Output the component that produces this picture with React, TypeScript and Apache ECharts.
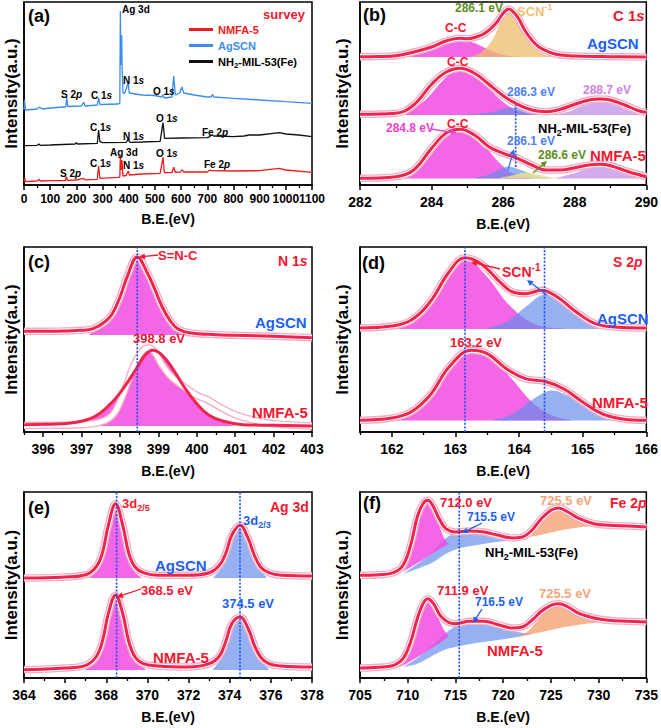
import React, { useEffect, useRef } from "react";
import * as echarts from "echarts";

type P = [number, number];
type F = number[][];

const FF = '"Liberation Sans", Arial, Helvetica, sans-serif';

// ---------------- (a) survey ----------------
const aTicks = [0, 100, 200, 300, 400, 500, 600, 700, 800, 900, 1000, 1100];
const aMinor = [50, 150, 250, 350, 450, 550, 650, 750, 850, 950, 1050];
const surveyAgSCN: P[] = [[0,75],[2,85],[6,75],[50,76],[60,78],[70,76],[100,77],[150,78],[160,78],[163,88],[167,78.5],[220,79],[228,83],[233,79],[280,80],[285,87],[290,80.5],[360,81],[366,82],[368,174],[370,120],[373,150],[375,115],[378,92],[385,92],[398,102],[402,92],[450,90],[500,89.5],[525,88],[531,90],[536,87],[565,88],[572,109],[578,90],[595,92],[603,98],[610,92],[650,90],[700,88],[715,88],[720,90.7],[725,88],[800,86.7],[900,85],[1000,83.3],[1100,81.7]];
const surveyNH2: P[] = [[0,39.3],[50,39.7],[57,41],[62,39.7],[100,40],[195,41],[200,42.3],[205,41],[280,41.7],[285,55],[290,43.3],[300,42.3],[390,42.7],[398,45.7],[405,42.7],[450,43],[520,43.7],[531,62.3],[537,46.7],[600,47],[700,47.3],[710,48.3],[712,50],[725,49],[800,48.3],[840,49],[860,50],[900,50],[975,52.3],[1000,51],[1050,50],[1100,48.3]];
const surveyNMFA: P[] = [[0,3.3],[3,6.7],[6,3.3],[50,4],[58,5.7],[62,4],[100,4.3],[158,4.5],[162,8.3],[166,4.7],[200,5],[228,6.7],[232,5.2],[280,5.7],[285,19],[290,6.7],[360,7.7],[366,8],[368,29.3],[371,15],[374,25],[378,9],[390,9.5],[398,14],[403,10],[450,11],[520,11.7],[531,27.7],[536,12.3],[565,12.5],[572,17.7],[578,12.7],[598,13],[603,15.3],[610,13],[700,13],[710,15],[715,14.3],[800,14],[900,14.3],[975,16.7],[1000,15],[1100,12.7]];

// ---------------- (b) C 1s ----------------
const bTicks = [282, 284, 286, 288, 290];
const bMinor = [283, 285, 287, 289];
const bAgEnv: P[] = [[282,128.3],[282.5,128.5],[283,129.3],[283.5,133],[284,138],[284.4,144],[284.8,146.7],[285.0,146.3],[285.2,147.5],[285.5,152],[285.8,161.7],[286.0,171.7],[286.15,176],[286.4,168],[286.6,155],[286.8,145],[287.0,138],[287.3,132.7],[287.6,130],[288,129],[289,128.3],[290,128]];
const bAgCC: F = [[283.2,128.3],[283.6,131],[284.0,137],[284.3,142],[284.75,146],[285.2,142],[285.5,137],[285.9,131],[286.3,128.3]];
const bAgSCNpk: F = [[285.1,128.3],[285.4,133],[285.7,145],[285.9,160],[286.1,174],[286.3,170],[286.5,158],[286.7,145],[286.9,136],[287.2,130],[287.5,128.3]];
const bAgBase = 128;
const bNH2Env: P[] = [[282,70.7],[283,71.7],[283.5,80],[284,100.7],[284.4,112.7],[284.8,116.7],[285.2,111.7],[285.6,100.7],[286.0,89.3],[286.4,80.7],[286.8,75],[287.2,73.3],[287.6,75.7],[288.0,80.7],[288.4,85],[288.7,86],[289.0,85],[289.4,80],[289.8,74],[290,72.7]];
const bNH2CC: F = [[282.8,70.5],[283.3,74],[283.8,84],[284.2,100],[284.5,111],[284.8,115.5],[285.1,111],[285.5,100],[285.9,86],[286.3,76],[286.8,71],[287.3,70]];
const bNH2Pk2863: F = [[285.0,70],[285.6,72.5],[286.0,76],[286.3,77.5],[286.6,76],[287.0,72.5],[287.5,70]];
const bNH2Pk2887: F = [[287.3,70],[287.8,73],[288.2,79],[288.7,83],[289.2,79],[289.6,73],[290,70.5]];
const bNH2Base = 70;
const bNMFAEnv: P[] = [[282,6.7],[283,8.3],[283.5,15],[284,36.7],[284.4,51.7],[284.8,55.7],[285.2,50],[285.6,38.3],[286.0,31.7],[286.4,26.7],[286.8,20],[287.2,15],[287.6,15],[288.0,17.3],[288.4,20],[288.7,20.7],[289,19.3],[289.5,13.3],[290,8.3]];
const bNMFACC: F = [[282.8,7],[283.3,10],[283.8,22],[284.2,40],[284.5,50],[284.8,54],[285.1,50],[285.5,38],[285.9,22],[286.3,11],[286.8,7]];
const bNMFAPk2861: F = [[285.2,7],[285.6,10.5],[286.0,17],[286.2,18.3],[286.5,15],[286.9,9.5],[287.3,7]];
const bNMFAPk2866: F = [[285.9,7],[286.3,10],[286.6,12.5],[286.9,11],[287.3,8],[287.6,7]];
const bNMFAPk2887: F = [[287.5,7],[288.0,12],[288.4,17],[288.7,18.5],[289.0,17],[289.4,12],[290,7.5]];
const bNMFABase = 6.5;
const bGuide: P[] = [[286.35,18],[286.35,80]];

// ---------------- (c) N 1s ----------------
const cTicks = [396, 397, 398, 399, 400, 401, 402, 403];
const cMinor = [395.5, 396.5, 397.5, 398.5, 399.5, 400.5, 401.5, 402.5];
const cAgEnv: P[] = [[395.5,100.7],[396,100.7],[396.5,101],[397,101.7],[397.3,103.3],[397.6,110],[397.8,118.3],[398.0,135],[398.2,156.7],[398.45,175],[398.7,160],[398.9,143.3],[399.1,125],[399.3,111.7],[399.5,103.3],[399.8,99.3],[400.5,97.3],[401,96.7],[402,95.7],[403,94.3]];
const cAgFill: F = [[397.2,97.5],[397.5,106],[397.8,118],[398.0,135],[398.2,156],[398.45,174],[398.7,159],[398.9,142],[399.1,124],[399.3,111],[399.6,101],[399.9,97.5]];
const cAgBase = 97;
const cNMFAEnv: P[] = [[395.5,7.3],[396,7.7],[396.5,8.3],[397,10.7],[397.4,16.7],[397.8,30],[398.1,44.3],[398.4,61.7],[398.65,76.7],[398.85,81.7],[399.1,76.7],[399.4,61.7],[399.7,43.3],[400,28.3],[400.3,17.3],[400.7,10.7],[401.2,7.3],[402,6.7],[403,6]];
const cNMFARaw: P[] = [[395.5,6.5],[396,6.7],[396.5,6.8],[397,7.3],[397.5,10],[397.8,16.7],[398.0,30],[398.2,50],[398.4,70],[398.6,81.7],[398.75,84],[398.9,80],[399.1,66.7],[399.3,56.7],[399.5,50],[399.8,41.7],[400,36.7],[400.3,31.7],[400.6,25],[401,17.3],[401.5,11.7],[402,8.3],[403,6]];
const cNMFAFill: F = [[397.0,6],[397.4,16],[397.8,30],[398.1,44],[398.4,61.5],[398.65,76.5],[398.85,81.5],[399.1,76.5],[399.4,61.5],[399.7,43],[400,28],[400.3,17],[400.7,10],[401,6]];
const cNMFABase = 6;
const cGuide = [398.45];

// ---------------- (d) S 2p ----------------
const dTicks = [162, 163, 164, 165, 166];
const dMinor = [161.5, 162.5, 163.5, 164.5, 165.5];
const dAgEnv: P[] = [[161.5,104],[162,106],[162.3,111.7],[162.6,130],[162.9,160],[163.15,174.3],[163.4,168.3],[163.7,150],[163.9,140],[164.1,138.3],[164.35,141.7],[164.6,135],[164.9,120],[165.2,108.3],[165.5,105],[166,104]];
const dAgPk1: F = [[161.8,104],[162.2,108],[162.5,125],[162.8,148],[163.15,173],[163.5,155],[163.8,130],[164.1,113],[164.4,105],[164.7,103.5]];
const dAgPk2: F = [[163.5,104],[163.8,110],[164.1,125],[164.4,137.5],[164.7,128],[165.0,114],[165.3,105],[165.5,103.5]];
const dAgBase = 103;
const dNMFAEnv: P[] = [[161.5,11.7],[162,14],[162.3,20],[162.6,36.7],[162.9,65],[163.25,81.7],[163.5,78.3],[163.8,63.3],[164.1,53.3],[164.4,50.7],[164.7,43.3],[165,30],[165.3,18.3],[165.6,13.3],[166,11.7]];
const dNMFAPk1: F = [[161.8,12],[162.2,18],[162.5,33],[162.8,57],[163.25,81],[163.6,72],[163.9,52],[164.2,30],[164.5,17],[164.8,12]];
const dNMFAPk2: F = [[163.6,12],[163.9,18],[164.2,32],[164.5,41.5],[164.8,35],[165.1,22],[165.4,14],[165.7,12]];
const dNMFABase = 11.5;
const dGuide = [163.15, 164.4];

// ---------------- (e) Ag 3d ----------------
const eTicks = [364, 366, 368, 370, 372, 374, 376, 378];
const eMinor = [365, 367, 369, 371, 373, 375, 377];
const eAgEnv: P[] = [[364,100],[366,101],[367,103.3],[367.5,111],[367.8,124.3],[368.1,152.7],[368.45,174.3],[368.8,152.7],[369.1,124.3],[369.4,111],[369.8,105.3],[370.5,102.7],[372,102.7],[373,105.3],[373.5,112.7],[373.8,124.3],[374.1,142.7],[374.5,152.7],[374.9,139.3],[375.2,122.7],[375.5,111],[375.9,105.3],[376.5,102.7],[378,102]];
const eAgPk1: F = [[367.2,100.5],[367.6,108],[367.9,122],[368.2,150],[368.45,173],[368.7,152],[369.0,125],[369.3,108],[369.7,100.5]];
const eAgPk2: F = [[373.2,100.5],[373.6,110],[373.9,125],[374.2,143],[374.5,151],[374.8,143],[375.1,125],[375.4,110],[375.8,100.5]];
const eAgBase = 100;
const eNMFAEnv: P[] = [[364,8.3],[366,10],[367,12.7],[367.5,21],[367.8,36],[368.1,64.3],[368.45,82.7],[368.8,64.3],[369.1,36],[369.4,21],[369.8,14.3],[370.5,12],[372,11],[373,14.3],[373.5,22],[373.8,36],[374.1,54.3],[374.5,61],[374.9,49.3],[375.2,32.7],[375.5,21],[375.9,14.3],[376.5,12],[378,11]];
const eNMFAPk1: F = [[367.0,9],[367.5,18],[367.9,40],[368.2,70],[368.45,81],[368.7,70],[369.0,42],[369.4,18],[369.9,9]];
const eNMFAPk2: F = [[373.2,9],[373.6,20],[373.9,38],[374.2,55],[374.5,60],[374.8,52],[375.1,36],[375.5,18],[375.9,9]];
const eNMFABase = 8;
const eGuide = [368.5, 374.5];

// ---------------- (f) Fe 2p ----------------
const fTicks = [705, 710, 715, 720, 725, 730, 735];
const fMinor = [707.5, 712.5, 717.5, 722.5, 727.5, 732.5];
const fNH2Env: P[] = [[705,102.7],[707,103.3],[708.5,105.3],[709.5,112.7],[710.3,132.7],[711,161],[711.6,174.3],[712.1,177.7],[712.6,172.7],[713.3,159.3],[714,149.3],[715,146],[716.5,147],[718,146],[719.5,142.7],[721,140],[722,141],[723,147.7],[724,159.3],[725,167.7],[725.8,170],[726.8,166],[728,159.3],[729.5,154.3],[731,152.7],[733,152],[735,151]];
const fNH2Pk712: F = [[709,103.5,103.5],[709.8,110,108],[710.5,130,112],[711.2,160,116],[711.7,173,119],[712.1,177,121.5],[712.6,171,124.5],[713.2,155,128],[713.8,140,131.5],[714.3,134,134]];
const fNH2Sat: F = [[709.5,104,104],[711,114,109.3],[712.5,125,115],[714,140,124.3],[715.5,146,130],[717,147,132.5],[718.5,145.5,135],[720,142,136.7],[721.5,139.5,138.5],[722.5,139.5,139.5]];
const fNH2Pk725: F = [[721,139,138],[722.5,144,140.5],[724,158,143.3],[725,166,145.5],[725.8,169,147.3],[727,164,149.3],[728.5,157,151.3],[730,152.5,152]];
const fNMFAEnv: P[] = [[705,10],[707,10.7],[708.5,12.7],[709.5,19.3],[710.3,36],[711,59.3],[711.6,74.3],[712.1,79.3],[712.7,74.3],[713.4,62.7],[714.2,56],[715,54.3],[716.5,56.7],[718,56.7],[719.5,53.3],[721,50],[722,51],[723,57.7],[724,66.7],[725,72.7],[725.8,74.3],[726.8,71],[728,64.3],[729.5,60],[731,57.7],[733,56.7],[735,56]];
const fNMFAPk712: F = [[709,10.5,10.5],[709.8,20,14],[710.5,40,18],[711.2,65,22],[711.7,76,25],[712.1,79,27.5],[712.6,74,30.5],[713.2,60,34],[713.8,48,38],[714.3,42,42]];
const fNMFASat: F = [[709.5,11,11],[711,20,14.3],[712.5,32,21.8],[714,45,28.7],[715.5,54,32],[717,57,34.7],[718.5,55,36.7],[720,50,38.7],[721.5,46,41],[723,44,44]];
const fNMFAPk725: F = [[721,41,40.5],[722.5,46,43],[724,62,46],[725,71,48],[725.8,73.5,49.7],[727,68,51.7],[728.5,60,54],[730,55.5,55.3]];
const fGuide = [715.4];

// ---------------- styling ----------------
const MAG = "rgba(240,70,225,0.82)";
const BLU = "rgba(100,140,236,0.68)";
const TAN = "rgba(236,188,105,0.75)";
const YEL = "rgba(236,228,135,0.8)";
const VIO = "rgba(190,140,232,0.72)";
const ORA = "rgba(243,160,110,0.78)";
const RED = "#f0254d";
const TRED = "#f3172f";
const TBLUE = "#1d5ff0";

const GRIDS = [
  { left: 24, top: 2, width: 288, height: 183 },
  { left: 360, top: 2, width: 288, height: 183 },
  { left: 24, top: 247, width: 288, height: 185 },
  { left: 360, top: 247, width: 288, height: 185 },
  { left: 24, top: 492, width: 288, height: 186 },
  { left: 360, top: 492, width: 288, height: 186 },
];

// Catmull-Rom spline through already-projected pixel points, as cubic bezier path commands
function splinePath(pts: number[][], moveFirst: boolean): string {
  let s = (moveFirst ? "M" : "L") + pts[0][0].toFixed(2) + " " + pts[0][1].toFixed(2);
  for (let i = 0; i < pts.length - 1; i++) {
    const p0 = pts[Math.max(0, i - 1)], p1 = pts[i], p2 = pts[i + 1], p3 = pts[Math.min(pts.length - 1, i + 2)];
    const c1x = p1[0] + (p2[0] - p0[0]) / 6, c1y = p1[1] + (p2[1] - p0[1]) / 6;
    const c2x = p2[0] - (p3[0] - p1[0]) / 6, c2y = p2[1] - (p3[1] - p1[1]) / 6;
    s += ` C${c1x.toFixed(2)} ${c1y.toFixed(2)} ${c2x.toFixed(2)} ${c2y.toFixed(2)} ${p2[0].toFixed(2)} ${p2[1].toFixed(2)}`;
  }
  return s;
}

function fill(gi: number, data: F, color: string, baseline = 0): any {
  return {
    type: "custom", coordinateSystem: "cartesian2d", xAxisIndex: 2 * gi, yAxisIndex: gi,
    data: data.map((d) => [d[0], d[1]]), silent: true, z: 1, clip: true,
    renderItem: (params: any, api: any) => {
      if (params.dataIndex !== 0) return null;
      const top = data.map((d) => api.coord([d[0], d[1]]));
      const bot = data.map((d) => api.coord([d[0], d.length > 2 ? d[2] : baseline])).reverse();
      const pathData = splinePath(top, true) + " " + splinePath(bot, false) + " Z";
      return { type: "path", shape: { pathData }, style: { fill: color, stroke: "none" } };
    },
  };
}

function halo(gi: number, data: P[]): any[] {
  const c = { type: "line", xAxisIndex: 2 * gi, yAxisIndex: gi, data, symbol: "none", smooth: 0.4, silent: true };
  return [
    { ...c, lineStyle: { color: "#f5adc4", width: 7.5 }, z: 2 },
    { ...c, lineStyle: { color: "#ffffff", width: 4.8 }, z: 3 },
  ];
}

function envelope(gi: number, data: P[], withHalo = true): any[] {
  const c = { type: "line", xAxisIndex: 2 * gi, yAxisIndex: gi, data, symbol: "none", smooth: 0.4, silent: true };
  return [...(withHalo ? halo(gi, data) : []), { ...c, lineStyle: { color: RED, width: 3 }, z: 4 }];
}

function guide(gi: number, x: number, y0: number, y1: number): any {
  return {
    type: "line", xAxisIndex: 2 * gi, yAxisIndex: gi, data: [[x, y0], [x, y1]], symbol: "none", silent: true,
    lineStyle: { color: "#1f4cf5", width: 1.6, type: [2, 1.6] }, z: 6,
  };
}

function axes(gi: number, min: number, max: number, majors: number[], minors: number[], size: number, gap: number, lmargin: number) {
  const main = {
    gridIndex: gi, type: "value", min, max,
    axisLine: { show: true, onZero: false, lineStyle: { color: "#000", width: 1.5 } },
    axisTick: { show: true, customValues: majors, length: 5, lineStyle: { color: "#000", width: 1.5 } },
    axisLabel: { show: true, customValues: majors, fontSize: size, fontWeight: "bold", fontFamily: FF, color: "#000", margin: lmargin, formatter: (v: number) => String(v) },
    splitLine: { show: false },
    name: "B.E.(eV)", nameLocation: "middle", nameGap: gap,
    nameTextStyle: { fontSize: 14, fontWeight: "bold", fontFamily: FF, color: "#000" },
  };
  const minor = {
    gridIndex: gi, type: "value", min, max, position: "bottom",
    axisLine: { show: false },
    axisTick: { show: true, customValues: minors, length: 3, lineStyle: { color: "#000", width: 1.3 } },
    axisLabel: { show: false }, splitLine: { show: false },
  };
  return [main, minor];
}

function yAxisFor(gi: number, h: number, gap: number) {
  return {
    gridIndex: gi, type: "value", min: 0, max: h,
    axisLine: { show: true, onZero: false, lineStyle: { color: "#000", width: 1.5 } },
    axisTick: { show: false }, axisLabel: { show: false }, splitLine: { show: false },
    name: "Intensity(a.u.)", nameLocation: "middle", nameGap: gap, nameRotate: 90,
    nameTextStyle: { fontSize: 17, fontWeight: "bold", fontFamily: FF, color: "#000" },
  };
}

function rich(size: number, color: string, lh: number) {
  return {
    n: { fontSize: size, fontWeight: "bold", fontFamily: FF, fill: color, lineHeight: lh },
    i: { fontSize: size, fontWeight: "bold", fontStyle: "italic", fontFamily: FF, fill: color, lineHeight: lh },
    sub: { fontSize: Math.round(size * 0.68), fontWeight: "bold", fontFamily: FF, fill: color, verticalAlign: "bottom", lineHeight: Math.round(size * 0.7) },
    sup: { fontSize: Math.round(size * 0.68), fontWeight: "bold", fontFamily: FF, fill: color, verticalAlign: "top", lineHeight: Math.round(size * 0.7) },
  };
}

function label(x: number, y: number, markup: string, color: string, size = 13): any {
  const hasScript = markup.indexOf("{sub|") >= 0 || markup.indexOf("{sup|") >= 0;
  const lh = hasScript ? size + 5 : size + 1;
  return {
    type: "text", x, y, z: 100, silent: true,
    style: { text: markup, rich: rich(size, color, lh), fill: color, align: "left", verticalAlign: "middle", font: `bold ${size}px ${FF}` },
  };
}

function arrow(x1: number, y1: number, x2: number, y2: number, color: string): any[] {
  const ang = Math.atan2(y2 - y1, x2 - x1);
  const L = 6, W = 3;
  const bx = x2 - L * Math.cos(ang), by = y2 - L * Math.sin(ang);
  const px = -Math.sin(ang) * W, py = Math.cos(ang) * W;
  return [
    { type: "line", z: 100, silent: true, shape: { x1, y1, x2: bx, y2: by }, style: { stroke: color, lineWidth: 1.3 } },
    { type: "polygon", z: 100, silent: true, shape: { points: [[x2, y2], [bx + px, by + py], [bx - px, by - py]] }, style: { fill: color } },
  ];
}

function buildOption(): any {
  const series: any[] = [];
  // (a)
  const sv = (name: string, data: P[], color: string) => ({
    type: "line", name, xAxisIndex: 0, yAxisIndex: 0, data, symbol: "none", silent: true,
    lineStyle: { color, width: 1.3 }, itemStyle: { color }, z: 2,
  });
  series.push(sv("NMFA-5", surveyNMFA, "#f41a1a"));
  series.push(sv("AgSCN", surveyAgSCN, "#3b8ded"));
  series.push(sv("NH2-MIL-53(Fe)", surveyNH2, "#111111"));
  // (b)
  series.push(fill(1, bAgCC, MAG, bAgBase));
  series.push(fill(1, bAgSCNpk, TAN, bAgBase));
  series.push(fill(1, bNH2CC, MAG, bNH2Base));
  series.push(fill(1, bNH2Pk2863, BLU, bNH2Base));
  series.push(fill(1, bNH2Pk2887, VIO, bNH2Base));
  series.push(fill(1, bNMFACC, MAG, bNMFABase));
  series.push(fill(1, bNMFAPk2861, BLU, bNMFABase));
  series.push(fill(1, bNMFAPk2866, YEL, bNMFABase));
  series.push(fill(1, bNMFAPk2887, VIO, bNMFABase));
  series.push(...envelope(1, bAgEnv), ...envelope(1, bNH2Env), ...envelope(1, bNMFAEnv));
  series.push(guide(1, bGuide[0][0], bGuide[0][1], bGuide[1][1]));
  // (c)
  series.push(fill(2, cAgFill, MAG, cAgBase));
  series.push(fill(2, cNMFAFill, MAG, cNMFABase));
  series.push(...envelope(2, cAgEnv));
  series.push(...halo(2, cNMFARaw));
  series.push(...envelope(2, cNMFAEnv, false));
  cGuide.forEach((x) => series.push(guide(2, x, 0, GRIDS[2].height)));
  // (d)
  series.push(fill(3, dAgPk1, MAG, dAgBase));
  series.push(fill(3, dAgPk2, BLU, dAgBase));
  series.push(fill(3, dNMFAPk1, MAG, dNMFABase));
  series.push(fill(3, dNMFAPk2, BLU, dNMFABase));
  series.push(...envelope(3, dAgEnv), ...envelope(3, dNMFAEnv));
  dGuide.forEach((x) => series.push(guide(3, x, 0, GRIDS[3].height)));
  // (e)
  series.push(fill(4, eAgPk1, MAG, eAgBase));
  series.push(fill(4, eAgPk2, BLU, eAgBase));
  series.push(fill(4, eNMFAPk1, MAG, eNMFABase));
  series.push(fill(4, eNMFAPk2, BLU, eNMFABase));
  series.push(...envelope(4, eAgEnv), ...envelope(4, eNMFAEnv));
  eGuide.forEach((x) => series.push(guide(4, x, 0, GRIDS[4].height)));
  // (f)
  series.push(fill(5, fNH2Sat, BLU));
  series.push(fill(5, fNH2Pk712, MAG));
  series.push(fill(5, fNH2Pk725, ORA));
  series.push(fill(5, fNMFASat, BLU));
  series.push(fill(5, fNMFAPk712, MAG));
  series.push(fill(5, fNMFAPk725, ORA));
  series.push(...envelope(5, fNH2Env), ...envelope(5, fNMFAEnv));
  fGuide.forEach((x) => series.push(guide(5, x, 0, GRIDS[5].height)));

  const xAxis = [
    ...axes(0, 0, 1100, aTicks, aMinor, 12, 27, 8),
    ...axes(1, 282, 290, bTicks, bMinor, 14, 32, 10),
    ...axes(2, 395.5, 403, cTicks, cMinor, 14, 32, 10),
    ...axes(3, 161.5, 166, dTicks, dMinor, 14, 32, 10),
    ...axes(4, 364, 378, eTicks, eMinor, 14, 32, 10),
    ...axes(5, 705, 735, fTicks, fMinor, 14, 32, 10),
  ];
  const yAxis = GRIDS.map((g, i) => yAxisFor(i, g.height, i % 2 === 0 ? 4 : 9));

  const G = "#5e8d1e";
  const elements: any[] = [
    // (a)
    label(28, 16, "{n|(a)}", "#000", 18),
    label(263, 14, "{n|survey}", TRED, 13),
    label(122, 9, "{n|Ag 3d}", "#000", 10),
    label(123, 80, "{n|N 1}{i|s}", "#000", 10),
    label(61, 94, "{n|S 2}{i|p}", "#000", 10),
    label(91, 95, "{n|C 1}{i|s}", "#000", 10),
    label(153, 91, "{n|O 1}{i|s}", "#000", 10),
    label(90, 127, "{n|C 1}{i|s}", "#000", 10),
    label(123, 136, "{n|N 1}{i|s}", "#000", 10),
    label(156, 118, "{n|O 1}{i|s}", "#000", 10),
    label(202, 132, "{n|Fe 2}{i|p}", "#000", 10),
    label(110, 152, "{n|Ag 3d}", "#000", 10),
    label(90, 163, "{n|C 1}{i|s}", "#000", 10),
    label(123, 165, "{n|N 1}{i|s}", "#000", 10),
    label(156, 153, "{n|O 1}{i|s}", "#000", 10),
    label(204, 164, "{n|Fe 2}{i|p}", "#000", 10),
    label(60, 173, "{n|S 2}{i|p}", "#000", 10),
    // (b)
    label(363, 15, "{n|(b)}", "#000", 18),
    label(455, 8, "{n|286.1 eV}", G, 12),
    label(517, 11, "{n|SCN}{sup|-1}", "#f0c070", 13),
    label(613, 15, "{n|C 1}{i|s}", TRED, 15),
    label(587, 43, "{n|AgSCN}", TBLUE, 15),
    label(445, 28, "{n|C-C}", TRED, 12),
    label(447, 62, "{n|C-C}", TRED, 12),
    label(507, 92, "{n|286.3 eV}", "#4f80f0", 12),
    label(583, 90, "{n|288.7 eV}", "#d47fe6", 12),
    label(386, 128, "{n|284.8 eV}", "#f03fd3", 12),
    ...arrow(431, 129, 457, 133, "#f03fd3"),
    label(447, 124, "{n|C-C}", TRED, 12),
    label(538, 128, "{n|NH}{sub|2}{n|-MIL-53(Fe)}", "#000", 13),
    label(507, 141, "{n|286.1 eV}", "#4f80f0", 12),
    ...arrow(508, 170, 514, 149, "#3f6fe8"),
    label(538, 155, "{n|286.6 eV}", G, 12),
    ...arrow(533, 173, 547, 161, G),
    label(590, 155, "{n|NMFA-5}", TRED, 15),
    // (c)
    label(28, 262, "{n|(c)}", "#000", 18),
    label(158, 255, "{n|S=N-C}", TRED, 13),
    ...arrow(158, 255, 139, 257, TRED),
    label(278, 261, "{n|N 1}{i|s}", TRED, 14),
    label(255, 322, "{n|AgSCN}", TBLUE, 15),
    label(133, 338, "{n|398.8 eV}", TRED, 13),
    label(252, 412, "{n|NMFA-5}", TRED, 15),
    // (d)
    label(362, 263, "{n|(d)}", "#000", 18),
    label(613, 262, "{n|S 2}{i|p}", TRED, 14),
    label(502, 272, "{n|SCN}{sup|-1}", TRED, 14),
    ...arrow(500, 269, 471, 262, TRED),
    ...arrow(547, 295, 527, 280, TBLUE),
    label(597, 318, "{n|AgSCN}", TBLUE, 15),
    label(450, 342, "{n|163.2 eV}", TRED, 13),
    label(592, 402, "{n|NMFA-5}", TRED, 15),
    // (e)
    label(28, 508, "{n|(e)}", "#000", 18),
    label(270, 507, "{n|Ag 3d}", TRED, 14),
    label(122, 503, "{n|3d}{sub|2/5}", TRED, 13),
    label(243, 520, "{n|3d}{sub|2/3}", TBLUE, 13),
    label(155, 565, "{n|AgSCN}", TBLUE, 15),
    label(141, 590, "{n|368.5 eV}", TRED, 13),
    ...arrow(141, 589, 117, 597, TRED),
    label(222, 603, "{n|374.5 eV}", TBLUE, 13),
    label(153, 657, "{n|NMFA-5}", TRED, 15),
    // (f)
    label(363, 503, "{n|(f)}", "#000", 18),
    label(440, 502, "{n|712.0 eV}", TRED, 13),
    label(540, 500, "{n|725.5 eV}", "#f4a57a", 13),
    label(610, 503, "{n|Fe 2}{i|p}", TRED, 14),
    label(467, 517, "{n|715.5 eV}", TBLUE, 12),
    ...arrow(482, 523, 462, 533, TBLUE),
    label(485, 552, "{n|NH}{sub|2}{n|-MIL-53(Fe)}", "#000", 13),
    label(437, 590, "{n|711.9 eV}", TRED, 13),
    label(475, 602, "{n|716.5 eV}", TBLUE, 12),
    ...arrow(482, 609, 473, 623, TBLUE),
    label(539, 593, "{n|725.5 eV}", "#f4a57a", 13),
    label(487, 650, "{n|NMFA-5}", TRED, 15),
  ];

  return {
    animation: false,
    backgroundColor: "#fff",
    textStyle: { fontFamily: FF },
    grid: GRIDS.map((g) => ({ ...g, show: true, borderColor: "#000", borderWidth: 1.5, backgroundColor: "transparent", containLabel: false })),
    xAxis,
    yAxis,
    legend: {
      left: 189, top: 22, orient: "vertical", itemWidth: 24, itemHeight: 3, itemGap: 1, icon: "rect",
      selectedMode: false, padding: 0,
      textStyle: {
        fontSize: 11, fontWeight: "bold", fontFamily: FF, lineHeight: 14,
        rich: {
          n: { fontSize: 11, fontWeight: "bold", fontFamily: FF, lineHeight: 15 },
          sub: { fontSize: 8, fontWeight: "bold", fontFamily: FF, verticalAlign: "bottom", lineHeight: 8 },
        },
      },
      formatter: (name: string) => (name === "NH2-MIL-53(Fe)" ? "{n|NH}{sub|2}{n|-MIL-53(Fe)}" : "{n|" + name + "}"),
      data: [
        { name: "NMFA-5", textStyle: { color: "#f41a1a" } },
        { name: "AgSCN", textStyle: { color: "#3b8ded" } },
        { name: "NH2-MIL-53(Fe)", textStyle: { color: "#000" } },
      ],
    },
    graphic: { elements },
    series,
  };
}

export default function App() {
  const ref = useRef<HTMLDivElement>(null);
  useEffect(() => {
    document.body.style.margin = "0";
    if (!ref.current) return;
    const chart = echarts.init(ref.current, undefined, { renderer: "svg" });
    chart.setOption(buildOption());
    return () => chart.dispose();
  }, []);
  return <div ref={ref} style={{ width: 661, height: 728 }} />;
}
